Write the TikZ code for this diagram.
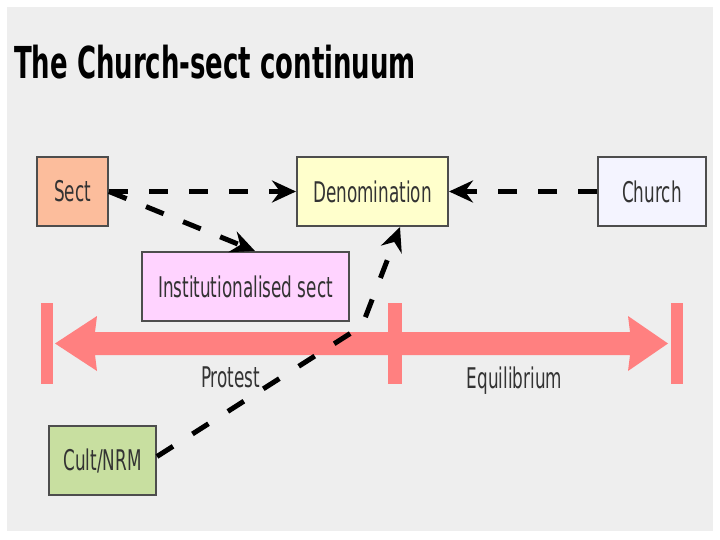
\documentclass[tikz,border=0pt]{standalone}
\usepackage{fontspec}
\setmainfont{DejaVu Sans}[FakeStretch=0.59]
\usetikzlibrary{arrows.meta}
\definecolor{bggray}{HTML}{EEEEEE}
\definecolor{boxline}{HTML}{4D4D4D}
\definecolor{lbl}{HTML}{333333}
\definecolor{sectfill}{HTML}{FCBD9C}
\definecolor{denomfill}{HTML}{FFFFCC}
\definecolor{churchfill}{HTML}{F4F4FF}
\definecolor{instfill}{HTML}{FFD3FF}
\definecolor{cultfill}{HTML}{C8DFA0}
\definecolor{barred}{HTML}{FF8080}
\tikzset{
  box/.style={draw=boxline, line width=2pt, minimum height=69pt, inner sep=0pt,
    text=lbl, font=\fontsize{28.5}{30}\selectfont},
  conn/.style={draw=black, line width=5pt, dash pattern=on 19pt off 21pt,
    -{Stealth[length=24pt, width=22pt, inset=8pt]}},
  barlabel/.style={text=lbl, font=\fontsize{28.5}{30}\selectfont, anchor=base, inner sep=0pt},
  tick/.style={fill=barred}
}
\begin{document}
\begin{tikzpicture}[x=1pt, y=-1pt]
\useasboundingbox (0,0) rectangle (720,540);
\fill[white] (0,0) rectangle (720,540);
\fill[bggray] (7,7) rectangle (713,531);

\node[anchor=base west, inner sep=0pt, font=\fontsize{44}{48}\selectfont\bfseries] (title) at (14,79) {The Church-sect continuum};

% continuum bar
\fill[barred] (55,343.5) -- (97,316) -- (95,332) -- (630,332) -- (628,316) -- (668,343.5)
  -- (628,371) -- (630,355) -- (95,355) -- (97,371) -- cycle;
\fill[tick] (41,303) rectangle (53,384);
\fill[tick] (388,303) rectangle (402,384);
\fill[tick] (671,303) rectangle (683,384);
\node[barlabel] (protest) at (230.5,387) {Protest};
\node[barlabel] (equil) at (514.5,388) {Equilibrium};

% boxes
\node[box, fill=sectfill, minimum width=71pt] (sect) at (72.5,191.5) {Sect};
\node[box, fill=denomfill, minimum width=151pt] (denom) at (372.5,191.5) {Denomination};
\node[box, fill=churchfill, minimum width=108pt] (church) at (652,191.5) {Church};
\node[box, fill=instfill, minimum width=207pt] (inst) at (245.5,286.5) {Institutionalised sect};
\node[box, fill=cultfill, minimum width=107pt] (cult) at (102.5,460.5) {Cult/NRM};

% connectors
\coordinate (bend) at (362,326);
\draw[conn] (sect.east) -- (denom.west);
\draw[conn] (sect.east) -- ([xshift=9.5pt]inst.north);
\draw[conn] (church.west) -- (denom.east);
\draw[conn, dash pattern=on 19pt off 23pt, rounded corners=6pt] ([yshift=4pt]cult.east) -- (bend) -- ([xshift=27.5pt]denom.south);
\end{tikzpicture}
\end{document}
